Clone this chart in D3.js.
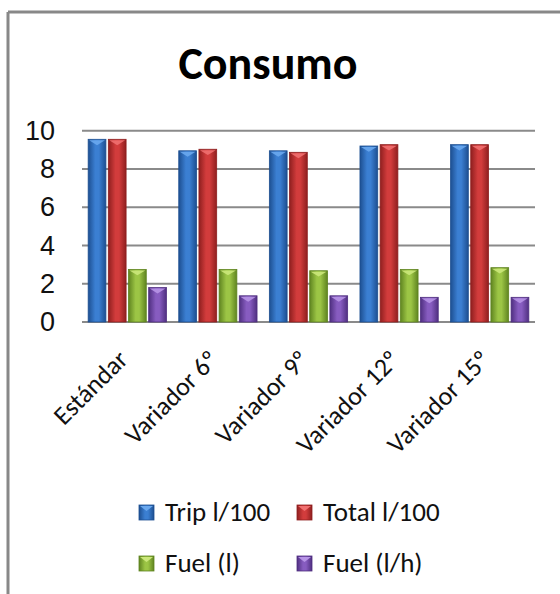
<!DOCTYPE html>
<html>
<head>
<meta charset="utf-8">
<script src="https://cdn.jsdelivr.net/npm/d3@7"></script>
<style>
  body { margin: 0; background: #fff; }
  svg { display: block; font-family: Carlito, "Open Sans", sans-serif; }
</style>
</head>
<body>
<svg id="chart" width="560" height="594"></svg>
<script>
const categories = ["Estándar", "Variador 6º", "Variador 9º", "Variador 12º", "Variador 15º"];
const seriesNames = ["Trip l/100", "Total l/100", "Fuel (l)", "Fuel (l/h)"];
const tripL100 = [9.55, 8.95, 8.95, 9.2, 9.27];
const totalL100 = [9.55, 9.03, 8.87, 9.27, 9.27];
const fuelL = [2.75, 2.75, 2.68, 2.75, 2.84];
const fuelLh = [1.8, 1.37, 1.37, 1.29, 1.29];
const yTicks = [0, 2, 4, 6, 8, 10];

const seriesValues = [tripL100, totalL100, fuelL, fuelLh];
const colors = [
  { dark: "#1d4f91", mid: "#3b7fd2", top: "#6aa8ee" },
  { dark: "#8f1f1f", mid: "#d23c3c", top: "#f07070" },
  { dark: "#5f8420", mid: "#9cc545", top: "#cbe77a" },
  { dark: "#4f2f80", mid: "#875cc0", top: "#b794e6" }
];

const svg = d3.select("#chart");
const plotLeft = 82, plotRight = 535, plotTop = 130.7, plotBottom = 322;

const x0 = d3.scaleBand().domain(categories).range([plotLeft, plotRight])
  .paddingInner(0.136).paddingOuter(0.068);
const x1 = d3.scaleBand().domain(seriesNames).range([0, x0.bandwidth()]).paddingInner(0.12);
const y = d3.scaleLinear().domain([0, 10]).range([plotBottom, plotTop]);

// gradients
const defs = svg.append("defs");
colors.forEach((c, i) => {
  const g = defs.append("linearGradient").attr("id", "g" + i)
    .attr("x1", 0).attr("x2", 1).attr("y1", 0).attr("y2", 0);
  g.append("stop").attr("offset", "0%").attr("stop-color", c.dark);
  g.append("stop").attr("offset", "40%").attr("stop-color", c.mid);
  g.append("stop").attr("offset", "60%").attr("stop-color", c.mid);
  g.append("stop").attr("offset", "100%").attr("stop-color", c.dark);
});

// frame
svg.append("line").attr("x1", 8).attr("x2", 560).attr("y1", 12).attr("y2", 12)
  .attr("stroke", "#888").attr("stroke-width", 3);
svg.append("line").attr("x1", 8).attr("x2", 8).attr("y1", 12).attr("y2", 594)
  .attr("stroke", "#888").attr("stroke-width", 3);

// title
svg.append("text").attr("x", 268).attr("y", 79).attr("text-anchor", "middle")
  .attr("font-size", 46).attr("font-weight", "bold").attr("fill", "#000")
  .text("Consumo");

// gridlines
svg.append("g").selectAll("line").data(yTicks).join("line")
  .attr("x1", plotLeft).attr("x2", plotRight)
  .attr("y1", d => y(d)).attr("y2", d => y(d))
  .attr("stroke", "#8a8a8a").attr("stroke-width", 2);

// y labels
const yAxis = svg.append("g").attr("transform", `translate(${plotLeft},0)`)
  .call(d3.axisLeft(y).tickValues(yTicks).tickSize(0).tickPadding(27));
yAxis.select(".domain").remove();
yAxis.selectAll("text").attr("font-size", 27).attr("font-family", null).attr("fill", "#111");

// bars
const groups = svg.append("g").selectAll("g").data(categories).join("g")
  .attr("transform", d => `translate(${x0(d)},0)`);

groups.each(function(cat, ci) {
  const g = d3.select(this);
  seriesNames.forEach((s, si) => {
    const v = seriesValues[si][ci];
    const bx = x1(s), bw = x1.bandwidth(), by = y(v);
    g.append("rect").attr("x", bx).attr("y", by).attr("width", bw)
      .attr("height", y(0) - by).attr("fill", `url(#g${si})`)
      .attr("stroke", colors[si].dark).attr("stroke-width", 0.8);
    g.append("path")
      .attr("d", `M${bx + 1},${by + 1}L${bx + bw - 1},${by + 1}L${bx + bw / 2},${by + bw * 0.33}Z`)
      .attr("fill", colors[si].top).attr("opacity", 0.9);
  });
});

// x labels
svg.append("g").selectAll("text").data(categories).join("text")
  .attr("transform", d => `translate(${x0(d) + x0.bandwidth() / 2 + 2},${plotBottom + 39}) rotate(-45)`)
  .attr("text-anchor", "end").attr("font-size", 26).attr("fill", "#111")
  .text(d => d);

// legend
const legendPos = [[139, 512], [297, 512], [139, 563], [297, 563]];
const lg = svg.append("g").selectAll("g").data(seriesNames).join("g")
  .attr("transform", (d, i) => `translate(${legendPos[i][0]},${legendPos[i][1]})`);
lg.append("rect").attr("x", 0).attr("y", -7).attr("width", 15).attr("height", 15)
  .attr("fill", (d, i) => `url(#g${i})`).attr("stroke", (d, i) => colors[i].dark).attr("stroke-width", 0.8);
lg.append("path").attr("d", "M1,-6L14,-6L7.5,-1Z").attr("fill", (d, i) => colors[i].top);
lg.append("text").attr("x", 26).attr("y", 0).attr("dy", "0.35em")
  .attr("font-size", 27).attr("fill", "#111").text(d => d);
</script>
</body>
</html>
